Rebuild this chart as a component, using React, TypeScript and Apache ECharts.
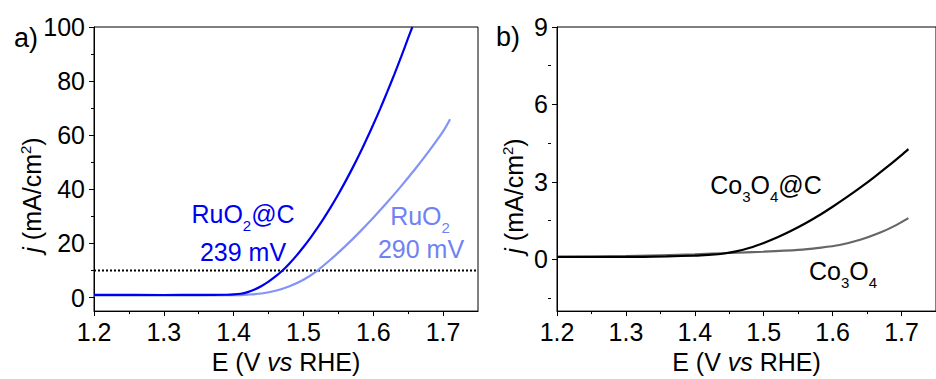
import React, { useEffect, useRef } from 'react';
import * as echarts from 'echarts';

const FONT = '"Liberation Sans", Arial, Helvetica, sans-serif';

// Tick values
const xMajorTicks = [1.2, 1.3, 1.4, 1.5, 1.6, 1.7];
const yMajorTicksA = [0, 20, 40, 60, 80, 100];
const yMinorTicksA = [10, 30, 50, 70, 90];
const yMajorTicksB = [0, 3, 6, 9];
const yMinorTicksB = [-1.5, 1.5, 4.5, 7.5];

// Panel a: RuO2@C
const ruo2cE = [1.2, 1.3, 1.35, 1.39, 1.4, 1.41, 1.42, 1.43, 1.44, 1.45, 1.46, 1.47, 1.48, 1.49, 1.5, 1.51, 1.52, 1.53, 1.54, 1.55, 1.56, 1.57, 1.58, 1.59, 1.6, 1.61, 1.62, 1.63, 1.64, 1.65, 1.656];
const ruo2cJ = [1.0, 0.95, 1.0, 1.05, 1.15, 1.4, 2.0, 3.0, 4.3, 5.9, 7.8, 10.0, 12.6, 15.5, 18.7, 22.1, 25.75, 29.65, 33.8, 38.2, 42.85, 47.75, 52.9, 58.3, 63.95, 69.85, 76.0, 82.4, 89.05, 95.95, 100];
// Panel a: RuO2
const ruo2E = [1.2, 1.3, 1.4, 1.42, 1.44, 1.46, 1.48, 1.5, 1.52, 1.54, 1.56, 1.58, 1.6, 1.62, 1.64, 1.66, 1.68, 1.7, 1.71];
const ruo2J = [0.8, 0.8, 0.9, 1.1, 1.5, 2.5, 4.2, 6.6, 10.0, 14.3, 19.0, 24.1, 29.5, 35.2, 41.2, 47.5, 54.2, 61.4, 65.9];
// Reference line at 10 mA/cm2
const refLineE = [1.2, 1.75];
const refLineJ = 10;

// Panel b: Co3O4@C
const coCE = [1.2, 1.3, 1.36, 1.4, 1.42, 1.44, 1.46, 1.48, 1.5, 1.52, 1.54, 1.56, 1.58, 1.6, 1.62, 1.64, 1.66, 1.68, 1.7, 1.71];
const coCJ = [0.1, 0.1, 0.12, 0.15, 0.18, 0.22, 0.31, 0.45, 0.64, 0.86, 1.11, 1.39, 1.7, 2.04, 2.4, 2.78, 3.18, 3.6, 4.04, 4.27];
// Panel b: Co3O4
const coE = [1.2, 1.3, 1.4, 1.45, 1.5, 1.55, 1.58, 1.61, 1.64, 1.67, 1.69, 1.71];
const coJ = [0.1, 0.13, 0.2, 0.25, 0.3, 0.37, 0.45, 0.56, 0.76, 1.05, 1.3, 1.6];

const zip = (xs: number[], ys: number[]) => xs.map((x, i) => [x, ys[i]]);

const GRID_A = { left: 94, top: 27, width: 384, height: 286 };
const GRID_B = { left: 557, top: 27, width: 385, height: 286 };

const lineCol = '#000';

function xAxesFor(gridIndex: number) {
  return {
    type: 'value',
    gridIndex,
    min: 1.2,
    max: 1.75,
    interval: 0.1,
    axisLine: { show: true, onZero: false, lineStyle: { color: lineCol, width: 1 } },
    axisTick: { show: true, inside: false, length: 5, customValues: xMajorTicks, lineStyle: { color: lineCol, width: 1 } },
    minorTick: { show: true, splitNumber: 2, length: 3, lineStyle: { color: lineCol, width: 1 } },
    axisLabel: {
      show: true,
      customValues: xMajorTicks,
      margin: 8,
      fontSize: 25,
      fontFamily: FONT,
      color: '#000',
      formatter: (v: number) => v.toFixed(1),
    },
    splitLine: { show: false },
    name: '{n|E (V }{i|vs}{n| RHE)}',
    nameLocation: 'middle',
    nameGap: 36,
    nameTextStyle: {
      rich: {
        n: { fontSize: 25, fontFamily: FONT, color: '#000' },
        i: { fontSize: 25, fontFamily: FONT, color: '#000', fontStyle: 'italic' },
      },
    },
  };
}

function yMajor(gridIndex: number, min: number, max: number, ticks: number[]) {
  return {
    type: 'value',
    gridIndex,
    min,
    max,
    position: 'left',
    axisLine: { show: true, onZero: false, lineStyle: { color: lineCol, width: 1 } },
    axisTick: { show: true, inside: false, length: 5, customValues: ticks, lineStyle: { color: lineCol, width: 1 } },
    axisLabel: {
      show: true,
      customValues: ticks,
      margin: 9,
      fontSize: 25,
      fontFamily: FONT,
      color: '#000',
    },
    splitLine: { show: false },
  };
}

function yMinor(gridIndex: number, min: number, max: number, ticks: number[], width: number) {
  return {
    type: 'value',
    gridIndex,
    min,
    max,
    position: 'right',
    offset: -width,
    axisLine: { show: false, onZero: false },
    axisTick: { show: true, inside: true, length: 3, customValues: ticks, lineStyle: { color: lineCol, width: 1 } },
    axisLabel: { show: false },
    splitLine: { show: false },
  };
}

const richBase = (fill: string) => ({
  n: { fontSize: 25, fontFamily: FONT, fill, lineHeight: 28 },
  i: { fontSize: 25, fontFamily: FONT, fill, fontStyle: 'italic', lineHeight: 28 },
  s: { fontSize: 15, fontFamily: FONT, fill, padding: [22, 0, 0, 0], lineHeight: 28 },
  p: { fontSize: 15, fontFamily: FONT, fill, padding: [0, 0, 14, 0], lineHeight: 28 },
});

function label(text: string, x: number, y: number, fill: string, align = 'center', rotation = 0) {
  return {
    type: 'text',
    x,
    y,
    rotation,
    silent: true,
    style: {
      text,
      align,
      verticalAlign: 'middle',
      fontSize: 25,
      fontFamily: FONT,
      fill,
      rich: richBase(fill),
    },
  };
}

const BLUE = '#0000f0';
const LIGHT = '#8393f7';
const LIGHT_TXT = '#6f82f3';

export default function App() {
  const ref = useRef<HTMLDivElement>(null);
  useEffect(() => {
    if (!ref.current) return;
    const chart = echarts.init(ref.current, undefined, { renderer: 'svg' });
    const curve = (name: string, xi: number, yi: number, data: number[][], color: string, z: number) => ({
      type: 'line',
      name,
      xAxisIndex: xi,
      yAxisIndex: yi,
      data,
      symbol: 'none',
      smooth: 0.3,
      lineStyle: { color, width: 2.2 },
      z,
    });
    const option: any = {
      animation: false,
      backgroundColor: '#fff',
      grid: [
        { ...GRID_A, show: true, borderColor: '#000', borderWidth: 1, backgroundColor: 'transparent', containLabel: false },
        { ...GRID_B, show: true, borderColor: '#000', borderWidth: 1, backgroundColor: 'transparent', containLabel: false },
      ],
      xAxis: [xAxesFor(0), xAxesFor(1)],
      yAxis: [
        yMajor(0, -5, 100, yMajorTicksA),
        yMinor(0, -5, 100, yMinorTicksA, GRID_A.width),
        yMajor(1, -2, 9, yMajorTicksB),
        yMinor(1, -2, 9, yMinorTicksB, GRID_B.width),
      ],
      series: [
        {
          type: 'line',
          name: 'ref',
          xAxisIndex: 0,
          yAxisIndex: 0,
          data: refLineE.map((e) => [e, refLineJ]),
          symbol: 'none',
          lineStyle: { color: '#000', width: 2, type: [2, 2] },
          z: 1,
        },
        curve('RuO2', 0, 0, zip(ruo2E, ruo2J), LIGHT, 2),
        curve('RuO2@C', 0, 0, zip(ruo2cE, ruo2cJ), BLUE, 3),
        curve('Co3O4', 1, 2, zip(coE, coJ), '#666', 2),
        curve('Co3O4@C', 1, 2, zip(coCE, coCJ), '#000', 3),
      ],
      graphic: [
        { type: 'text', x: 14, y: 38, silent: true, style: { text: 'a)', fontSize: 27, fontFamily: FONT, fill: '#000', align: 'left', verticalAlign: 'middle' } },
        { type: 'text', x: 496, y: 37, silent: true, style: { text: 'b)', fontSize: 27, fontFamily: FONT, fill: '#000', align: 'left', verticalAlign: 'middle' } },
        label('{i|j}{n| (mA/cm}{p|2}{n|)}', 32, 195, '#000', 'center', Math.PI / 2),
        label('{i|j}{n| (mA/cm}{p|2}{n|)}', 514, 196, '#000', 'center', Math.PI / 2),
        label('{n|RuO}{s|2}{n|@C}', 243, 214, BLUE),
        label('{n|239 mV}', 243, 252, BLUE),
        label('{n|RuO}{s|2}', 420, 216, LIGHT_TXT),
        label('{n|290 mV}', 421, 249, LIGHT_TXT),
        label('{n|Co}{s|3}{n|O}{s|4}{n|@C}', 766, 185, '#000'),
        label('{n|Co}{s|3}{n|O}{s|4}', 843, 271, '#000'),
      ],
    };
    chart.setOption(option);
    return () => chart.dispose();
  }, []);
  return (
    <div
      ref={ref}
      style={{ position: 'fixed', left: 0, top: 0, width: 936, height: 379, background: '#fff' }}
    />
  );
}
